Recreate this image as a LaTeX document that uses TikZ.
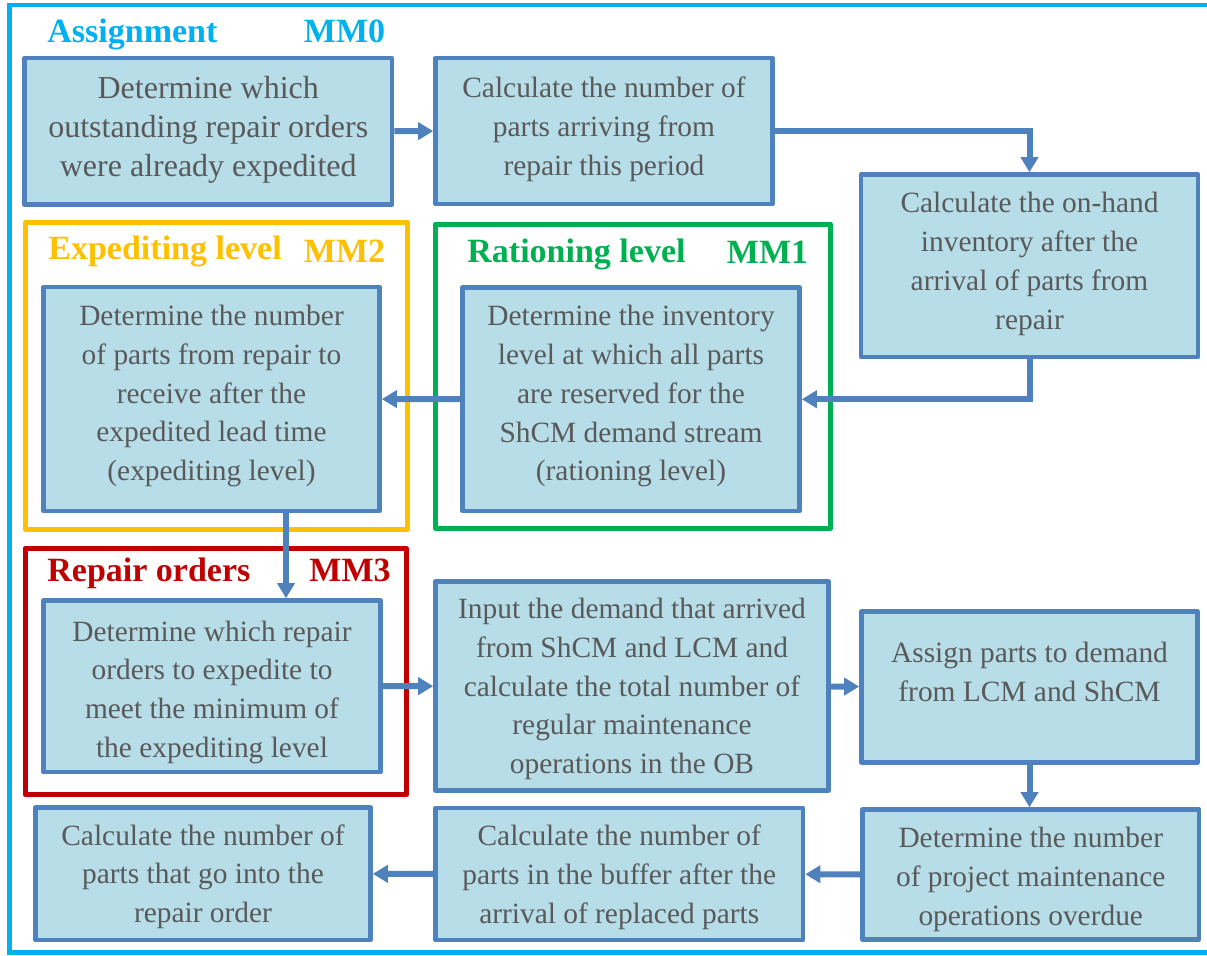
\documentclass[tikz,border=0pt]{standalone}
\usepackage{fontspec}
\setmainfont{Liberation Serif}
\usepackage{xcolor}
\usepackage{tikz}
\usetikzlibrary{arrows.meta,fit}

\definecolor{boxfill}{HTML}{B7DDE8}
\definecolor{boxline}{HTML}{4F81BD}
\definecolor{txtgray}{HTML}{595959}
\definecolor{mmblue}{HTML}{00B0F0}
\definecolor{mmyellow}{HTML}{FFC000}
\definecolor{mmgreen}{HTML}{00B050}
\definecolor{mmred}{HTML}{C00000}

\begin{document}
\begin{tikzpicture}[x=0.5pt,y=-0.5pt,
  blk/.style={draw=boxline,fill=boxfill,line width=2.3pt,line join=round,inner sep=0pt},
  txt/.style={inner sep=0pt,align=center,text=txtgray,font=\fontsize{14.7}{19.4}\selectfont},
  grp/.style={line width=2.5pt,line join=round},
  ttl/.style={anchor=base west,inner sep=0pt,font=\fontsize{17}{20}\selectfont\bfseries},
  mm/.style={anchor=base,inner sep=0pt,font=\fontsize{17}{20}\selectfont\bfseries},
  arr/.style={draw=boxline,line width=3pt,-{Triangle[length=7.5pt,width=8.5pt]}}]
\useasboundingbox (0,0) rectangle (1207,955);
% frames
\draw[mmblue,line width=2.3pt](9.5,5)rectangle(1230,952.5);
\draw[grp,mmyellow](25.5,222)rectangle(407.5,529.5);
\draw[grp,mmgreen](435.5,224)rectangle(830.5,528);
\draw[grp,mmred](25,548.5)rectangle(406.5,794.5);
% titles
\node[ttl,mmblue] (tA) at (47,42) {Assignment};
\node[mm,mmblue] (mA) at (344.5,42) {MM0};
\node[ttl,mmyellow] (tD) at (48,259) {Expediting level};
\node[mm,mmyellow] (mD) at (344.5,262) {MM2};
\node[ttl,mmgreen] (tE) at (467,262) {Rationing level};
\node[mm,mmgreen] (mE) at (767.5,263) {MM1};
\node[ttl,mmred] (tF) at (47,581) {Repair orders};
\node[mm,mmred] (mF) at (350,581) {MM3};
% boxes
\node[blk,fit={(24.5,58)(392,204.5)}] (A) {};
\node[blk,fit={(435.5,58)(772.5,204)}] (B) {};
\node[blk,fit={(861,174.5)(1198,357)}] (C) {};
\node[blk,fit={(43.5,287)(379.5,511)}] (D) {};
\node[blk,fit={(462.5,287.5)(799.5,511)}] (E) {};
\node[blk,fit={(43.5,600.5)(380.5,772)}] (F) {};
\node[blk,fit={(435.5,581.5)(828.5,790.5)}] (G) {};
\node[blk,fit={(861.5,611.5)(1197.5,762.5)}] (H) {};
\node[blk,fit={(862.5,809.5)(1199,939.5)}] (I) {};
\node[blk,fit={(435.5,808)(803,940)}] (J) {};
\node[blk,fit={(35.5,807.5)(370.5,940)}] (K) {};
% box texts
\node[txt,yshift=0.5pt,font=\fontsize{16}{19.5}\selectfont] (At) at (A.center) {Determine which\\outstanding repair orders\\were already expedited};
\node[txt,yshift=0.8pt] (Bt) at (B.center) {Calculate the number of\\parts arriving from\\repair this period};
\node[txt,yshift=1pt] (Ct) at (C.center) {Calculate the on-hand\\inventory after the\\arrival of parts from\\repair};
\node[txt,yshift=1.5pt] (Dt) at (D.center) {Determine the number\\of parts from repair to\\receive after the\\expedited lead time\\(expediting level)};
\node[txt,yshift=1.5pt] (Et) at (E.center) {Determine the inventory\\level at which all parts\\are reserved for the\\ShCM demand stream\\(rationing level)};
\node[txt,yshift=-3pt] (Ft) at (F.center) {Determine which repair\\orders to expedite to\\meet the minimum of\\the expediting level};
\node[txt,yshift=-1.5pt] (Gt) at (G.center) {Input the demand that arrived\\from ShCM and LCM and\\calculate the total number of\\regular maintenance\\operations in the OB};
\node[txt,yshift=7.5pt] (Ht) at (H.center) {Assign parts to demand\\from LCM and ShCM};
\node[txt,yshift=-2.5pt] (It) at (I.center) {Determine the number\\of project maintenance\\operations overdue};
\node[txt,yshift=-1.5pt] (Jt) at (J.center) {Calculate the number of\\parts in the buffer after the\\arrival of replaced parts};
\node[txt,yshift=-1.5pt] (Kt) at (K.center) {Calculate the number of\\parts that go into the\\repair order};
% connectors
\draw[arr](A)--(B);
\draw[arr](B)-|(C);
\draw[arr](C)|-(E);
\draw[arr](E)--(D);
\draw[arr](D.south -| 286,0)--(F.north -| 286,0);
\draw[arr](F)--(G);
\draw[arr](G)--(H);
\draw[arr](H.south)--(H.south |- I.north);
\draw[arr](I)--(J);
\draw[arr](J)--(K);
\end{tikzpicture}
\end{document}
